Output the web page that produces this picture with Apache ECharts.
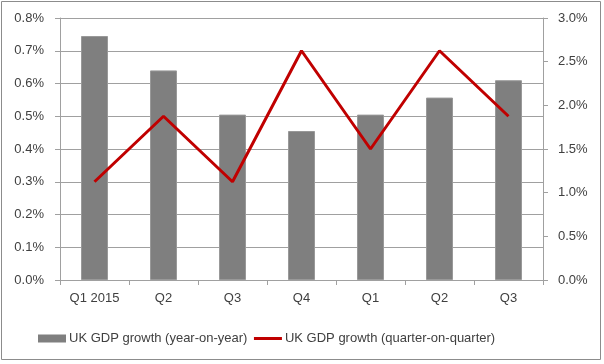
<!DOCTYPE html>
<html><head><meta charset="utf-8">
<script src="https://cdn.jsdelivr.net/npm/echarts@6/dist/echarts.min.js"></script>
<style>html,body{margin:0;padding:0;background:#fff}#c{width:604px;height:364px}</style>
</head><body><div id="c"></div>
<script>
var categories = ['Q1 2015','Q2','Q3','Q4','Q1','Q2','Q3'];
var yoyValues = [0.745, 0.64, 0.505, 0.455, 0.505, 0.557, 0.61];
var qoqValues = [1.125, 1.875, 1.125, 2.625, 1.5, 2.625, 1.875];
var leftTicks = [0, 0.8, 0.1];
var rightTicks = [0, 3.0, 0.5];
var font = 'Liberation Sans';
var chart = echarts.init(document.getElementById('c'));
chart.setOption({
  animation:false,
  textStyle:{fontFamily:font},
  graphic:[{type:'rect',shape:{x:1.5,y:1.5,width:599,height:358},style:{fill:'none',stroke:'#8c8c8c',lineWidth:1}}],
  grid:{left:60,right:61,top:18,bottom:84,containLabel:false},
  legend:{top:327,left:33,itemGap:5,textStyle:{fontSize:13,color:'#404040',fontFamily:font,padding:[0,0,0,-2]},
    data:[{name:'UK GDP growth (year-on-year)',icon:'rect',itemStyle:{borderWidth:0}},
          {name:'UK GDP growth (quarter-on-quarter)',itemStyle:{opacity:0},lineStyle:{width:3,color:'#c00000'}}],
    itemWidth:28,itemHeight:8},
  xAxis:{type:'category',data:categories,boundaryGap:true,
    axisLine:{lineStyle:{color:'#a0a0a0',width:1}},
    axisTick:{show:true,length:5,lineStyle:{color:'#a0a0a0'}},
    axisLabel:{fontSize:13,color:'#404040',margin:12}},
  yAxis:[{type:'value',min:leftTicks[0],max:leftTicks[1],interval:leftTicks[2],
      axisLine:{show:true,lineStyle:{color:'#a0a0a0'}},
      axisTick:{show:true,length:5,lineStyle:{color:'#a0a0a0'}},
      splitLine:{lineStyle:{color:'#a0a0a0',width:1}},
      axisLabel:{fontSize:13,color:'#404040',margin:16,formatter:function(v){return v.toFixed(1)+'%';}}},
    {type:'value',min:rightTicks[0],max:rightTicks[1],interval:rightTicks[2],position:'right',
      axisLine:{show:true,lineStyle:{color:'#a0a0a0'}},
      axisTick:{show:true,length:5,lineStyle:{color:'#a0a0a0'}},
      splitLine:{show:false},
      axisLabel:{fontSize:13,color:'#404040',margin:15,formatter:function(v){return v.toFixed(1)+'%';}}}],
  series:[
    {name:'UK GDP growth (year-on-year)',type:'bar',yAxisIndex:0,data:yoyValues,barWidth:27,
      itemStyle:{color:'#7f7f7f',borderColor:'#999999',borderWidth:1}},
    {name:'UK GDP growth (quarter-on-quarter)',type:'line',yAxisIndex:1,data:qoqValues,symbol:'none',
      lineStyle:{color:'#c00000',width:3},itemStyle:{color:'#c00000'}}
  ]
});
</script></body></html>
